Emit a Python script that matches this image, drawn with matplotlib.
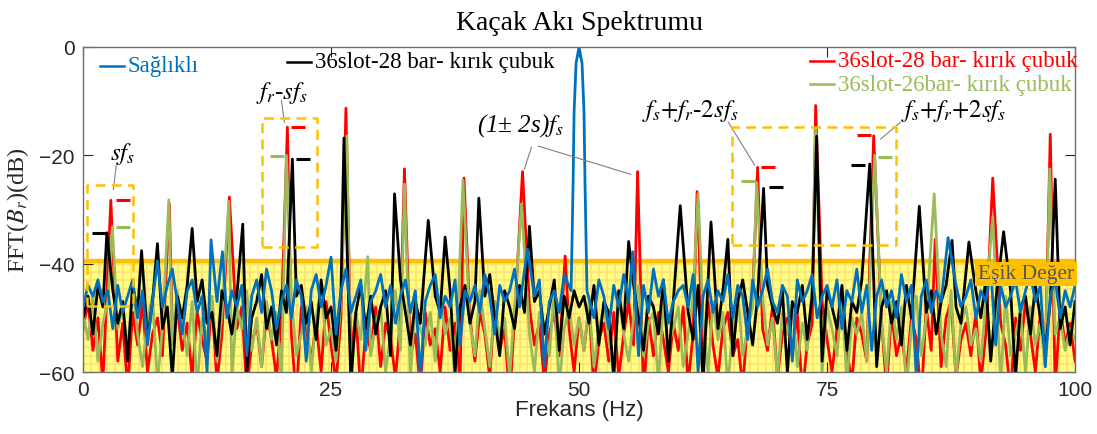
import numpy as np
import matplotlib
matplotlib.use('Agg')
import matplotlib.pyplot as plt

plt.rcParams['mathtext.fontset'] = 'stix'

# frequency grid of the noise floor (Hz), 0.5 Hz step
freq_grid = np.arange(201) * 0.5

# noise floor (dB), one value per grid point
noise_blue = [
    -48, -44, -46, -43, -47, -45, -52, -44, -49, -46, -43, -50, -45, -55, -47, -42, -48, -44, -41, -47,
    -53, -45, -43, -49, -46, -60, -44, -47, -42, -50, -45, -48, -44, -57, -46, -43, -49, -41, -45, -52,
    -47, -44, -50, -43, -46, -58, -45, -42, -48, -44, -47, -53, -45, -41, -49, -46, -43, -56, -47, -45,
    -42, -48, -44, -51, -46, -43, -49, -45, -61, -47, -44, -42, -50, -46, -48, -43, -55, -45, -47, -44,
    -49, -42, -46, -53, -44, -47, -45, -41, -48, -50, -44, -46, -43, -59, -47, -45, -49, -42, -46, -44,
    -48, -47, -45, -50, -43, -46, -52, -44, -48, -42, -47, -45, -57, -44, -49, -41, -46, -43, -51, -47,
    -45, -44, -48, -42, -60, -46, -43, -49, -45, -47, -42, -50, -44, -46, -54, -43, -48, -45, -41, -47,
    -49, -44, -46, -58, -43, -47, -45, -42, -50, -46, -44, -48, -43, -52, -45, -47, -41, -49, -44, -56,
    -46, -43, -48, -45, -50, -42, -47, -44, -61, -46, -43, -49, -45, -47, -42, -53, -44, -48, -46, -43,
    -50, -45, -47, -41, -55, -44, -48, -46, -43, -49, -45, -42, -47, -44, -59, -46, -43, -50, -45, -48,
    -44,
]
noise_black = [
    -50, -46, -53, -44, -48, -56, -45, -51, -47, -58, -44, -49, -42, -54, -47, -45, -52, -48, -61, -46,
    -50, -44, -55, -47, -43, -51, -49, -57, -45, -48, -53, -46, -44, -60, -50, -47, -42, -52, -48, -55,
    -45, -49, -58, -46, -44, -51, -47, -54, -43, -50, -48, -56, -45, -47, -62, -49, -44, -52, -46, -53,
    -48, -45, -57, -50, -43, -49, -55, -47, -51, -44, -58, -46, -49, -53, -45, -60, -48, -44, -51, -47,
    -54, -46, -42, -50, -57, -45, -48, -52, -44, -49, -59, -47, -45, -53, -48, -43, -56, -46, -50, -45,
    -48, -46, -51, -44, -55, -47, -49, -61, -45, -52, -47, -44, -50, -56, -46, -48, -53, -43, -58, -47,
    -45, -51, -49, -54, -44, -62, -48, -46, -52, -45, -50, -57, -47, -43, -49, -55, -46, -53, -44, -48,
    -51, -45, -60, -47, -49, -44, -54, -46, -50, -58, -45, -48, -52, -44, -56, -47, -49, -43, -53, -46,
    -59, -48, -45, -51, -47, -55, -44, -50, -62, -46, -49, -45, -53, -47, -44, -57, -48, -51, -46, -54,
    -45, -50, -43, -58, -47, -49, -52, -45, -61, -48, -46, -53, -44, -50, -56, -47, -45, -52, -48, -55,
    -47,
]
noise_red = [
    -52, -47, -56, -50, -62, -48, -54, -58, -51, -63, -49, -55, -47, -60, -53, -50, -57, -64, -52, -48,
    -56, -51, -61, -49, -54, -58, -47, -62, -53, -50, -57, -52, -48, -63, -55, -51, -59, -49, -54, -61,
    -50, -56, -53, -65, -48, -52, -58, -51, -60, -47, -55, -62, -50, -53, -57, -49, -64, -52, -56, -48,
    -59, -51, -54, -61, -50, -47, -57, -53, -63, -49, -55, -52, -60, -48, -56, -51, -62, -54, -50, -58,
    -49, -53, -61, -47, -56, -52, -65, -50, -54, -59, -48, -55, -51, -62, -53, -49, -57, -45, -52, -60,
    -50, -56, -48, -63, -54, -51, -58, -49, -61, -53, -47, -55, -52, -64, -50, -57, -49, -54, -60, -51,
    -56, -48, -62, -53, -50, -58, -47, -55, -61, -52, -49, -57, -54, -63, -50, -46, -59, -52, -56, -48,
    -61, -53, -50, -57, -49, -64, -55, -51, -58, -47, -54, -60, -52, -49, -56, -62, -50, -53, -58, -48,
    -55, -51, -63, -49, -57, -53, -60, -50, -54, -65, -48, -56, -52, -59, -50, -47, -61, -54, -51, -57,
    -49, -62, -53, -48, -58, -51, -55, -64, -50, -56, -47, -53, -60, -49, -57, -52, -63, -48, -55, -51,
    -58,
]
noise_green = [
    -49, -54, -46, -58, -51, -47, -60, -52, -48, -56, -44, -53, -59, -50, -46, -62, -52, -48, -55, -45,
    -51, -57, -47, -63, -50, -54, -46, -58, -49, -53, -61, -48, -52, -45, -56, -50, -59, -47, -54, -49,
    -62, -51, -46, -57, -53, -48, -60, -50, -44, -55, -52, -58, -47, -50, -63, -49, -54, -46, -57, -51,
    -48, -60, -53, -45, -56, -50, -61, -47, -52, -55, -49, -58, -46, -53, -50, -62, -48, -55, -51, -57,
    -45, -52, -59, -47, -54, -50, -61, -48, -56, -46, -53, -60, -49, -51, -57, -45, -63, -52, -48, -55,
    -50, -56, -47, -59, -52, -48, -54, -61, -46, -53, -58, -50, -44, -57, -51, -49, -62, -47, -55, -52,
    -48, -59, -53, -46, -56, -50, -60, -47, -54, -49, -63, -51, -45, -57, -52, -48, -58, -46, -55, -50,
    -61, -49, -53, -47, -59, -51, -56, -44, -54, -60, -48, -52, -57, -46, -62, -50, -53, -49, -58, -45,
    -55, -51, -60, -47, -54, -48, -63, -52, -46, -57, -50, -56, -49, -53, -59, -45, -61, -51, -48, -55,
    -52, -58, -47, -54, -50, -62, -46, -57, -53, -49, -60, -48, -55, -51, -59, -46, -53, -50, -56, -52,
    -54,
]

# spectral peaks (Hz, dB)
peaks_blue = [(7.5, -39.5), (12.9, -35.6), (14.05, -37.8), (25.0, -38.8), (44.8, -37.3),
              (49.2, -45.0), (49.4, -25.0), (49.5, -12.0), (49.7, -3.0), (50.0, 0.0),
              (50.3, -3.0), (50.5, -12.0), (50.6, -25.0), (50.8, -45.0),
              (55.4, -37.8), (87.2, -35.2)]
peaks_black = [(2.4, -34.3), (5.9, -37.6), (7.5, -36.3), (11.0, -33.5), (16.1, -32.7),
               (21.1, -20.7), (26.3, -16.8), (31.4, -27.1), (34.8, -32.0), (36.5, -35.1),
               (39.9, -27.9), (45.0, -33.1), (55.0, -35.9), (60.2, -29.3), (63.3, -32.3),
               (65.0, -35.5), (68.6, -26.1), (73.95, -16.5), (79.3, -21.6), (84.3, -29.4),
               (87.6, -35.7), (89.3, -36.0), (92.8, -34.1), (98.0, -24.4)]
peaks_red = [(2.8, -28.3), (8.7, -29.0), (14.75, -27.7), (20.6, -14.8), (26.5, -11.3),
             (32.4, -22.5), (38.4, -24.2), (44.3, -23.0), (48.6, -38.6), (55.9, -23.0),
             (61.9, -26.7), (68.0, -22.2), (73.85, -10.8), (79.7, -16.4), (85.9, -35.5),
             (91.7, -24.2), (97.5, -16.1)]
peaks_green = [(2.95, -33.2), (8.65, -28.2), (14.7, -28.5), (20.5, -20.0), (26.6, -16.4),
               (28.7, -38.7), (32.4, -25.3), (38.3, -24.6), (44.2, -29.0), (62.0, -27.1),
               (67.9, -25.0), (73.85, -15.0), (79.8, -20.0), (85.8, -27.1), (91.7, -31.3),
               (97.45, -22.5)]

# peak level marks next to the boxed peaks (Hz, dB)
marks_red = [(3.98, -28.2), (21.7, -14.8), (69.0, -22.2), (78.7, -16.2)]
marks_green = [(3.98, -33.2), (19.6, -20.2), (67.0, -24.8), (80.8, -20.4)]
marks_black = [(1.6, -34.3), (22.2, -20.7), (69.9, -25.9), (78.1, -21.8)]

threshold_db = -39.5

BLUE = '#0072BD'
RED = '#FF0000'
BLACK = '#000000'
GREEN = '#9BBB59'
ORANGE = '#FFC000'


def build_series(noise, peaks):
    """Merge the noise floor with the peak points, sorted by frequency."""
    peak_f = np.array([p[0] for p in peaks])
    keep = [i for i, f in enumerate(freq_grid) if np.all(np.abs(f - peak_f) > 0.3)]
    x = np.concatenate([freq_grid[keep], peak_f])
    y = np.concatenate([np.array(noise, dtype=float)[keep], [p[1] for p in peaks]])
    order = np.argsort(x)
    return x[order], y[order]


fig = plt.figure(figsize=(10.97, 4.35), dpi=100)
ax = fig.add_axes([0.0757, 0.1425, 0.9043, 0.7472])

# yellow region below the threshold with its own fine grid
ax.axhspan(-60, -40, color='#FFFF80', zorder=0, lw=0)
for xv in np.arange(0.8, 100, 0.8):
    ax.plot([xv, xv], [-60, -40], color='#FFDC78', lw=1.1, zorder=0.5)
for yv in np.arange(-58.5, -40, 1.54):
    ax.plot([0, 100], [yv, yv], color='#FFDC78', lw=1.1, zorder=0.5)

ax.axhline(threshold_db, color=ORANGE, lw=3.2, zorder=1)

for noise, peaks, color in [(noise_red, peaks_red, RED), (noise_green, peaks_green, GREEN),
                            (noise_black, peaks_black, BLACK), (noise_blue, peaks_blue, BLUE)]:
    x, y = build_series(noise, peaks)
    ax.plot(x, y, color=color, lw=2.0, zorder=2, solid_joinstyle='round')

for marks, color in [(marks_red, RED), (marks_green, GREEN), (marks_black, BLACK)]:
    ax.plot([m[0] for m in marks], [m[1] for m in marks], ls='none', marker='_',
            ms=10, mew=2.2, color=color, zorder=3)

# dashed boxes around the fault frequencies
box_style = dict(color=ORANGE, lw=1.8, ls=(0, (4, 2.5)), zorder=3)
for x0, x1, y0, y1 in [(0.4, 5.0, -47.8, -25.5), (18.0, 23.6, -36.9, -13.1),
                       (65.4, 82.0, -36.5, -14.8)]:
    ax.plot([x0, x1, x1, x0, x0], [y0, y0, y1, y1, y0], **box_style)

# labels with leader lines
lab_kw = dict(fontsize=18, ha='center', va='center', family='Liberation Serif',
              style='italic')
ax.text(4.0, -19.5, r'$sf_s$', **lab_kw)
ax.plot([3.35, 3.06], [-21.8, -26.3], color='#808080', lw=0.8)
ax.text(20.1, -8.3, r'$f_r$-$sf_s$', **lab_kw)
ax.plot([20.0, 20.3], [-9.9, -13.9], color='#808080', lw=0.8)
ax.text(44.05, -14.4, r'(1± 2s)$f_s$', **lab_kw)
ax.plot([45.2, 44.5], [-18.5, -22.5], color='#808080', lw=0.8)
ax.plot([45.9, 55.2], [-18.3, -23.5], color='#808080', lw=0.8)
ax.text(61.2, -11.7, r'$f_s{+}f_r$-$2sf_s$', **lab_kw)
ax.plot([65.05, 67.7], [-13.9, -21.8], color='#808080', lw=0.8)
ax.text(87.8, -11.6, r'$f_s{+}f_r{+}2sf_s$', **lab_kw)
ax.plot([82.4, 80.4], [-13.9, -17.0], color='#808080', lw=0.8)

ax.text(99.9, -41.9, 'Eşik Değer', fontsize=15.5, family='Liberation Serif', color='#595959',
        ha='right', va='center', zorder=5,
        bbox=dict(boxstyle='square,pad=0.12', fc=ORANGE, ec='none'))

# legend entries placed like the original figure
legend_items = [(0.017, 0.942, BLUE, 'Sağlıklı'),
                (0.206, 0.954, BLACK, '36slot-28 bar- kırık çubuk'),
                (0.733, 0.957, RED, '36slot-28 bar- kırık çubuk'),
                (0.733, 0.886, GREEN, '36slot-26bar- kırık çubuk')]
for lx, ly, color, label in legend_items:
    ax.plot([lx, lx + 0.024], [ly, ly], color=color, lw=1.8, transform=ax.transAxes)
    ax.text(lx + 0.028, ly, label, color=color, fontsize=16.5, family='Liberation Serif',
            va='center', ha='left', transform=ax.transAxes)

ax.set_xlim(0, 100)
ax.set_ylim(-60, 0)
ax.set_xticks([0, 25, 50, 75, 100])
ax.set_yticks([-60, -40, -20, 0])
ax.tick_params(direction='in', length=7, width=0.8, top=True, right=True,
               labelsize=15, colors='#262626', pad=6)
for lbl in ax.get_xticklabels() + ax.get_yticklabels():
    lbl.set_family('Liberation Sans')
for sp in ax.spines.values():
    sp.set_color('#6e6e6e')
    sp.set_linewidth(1.0)

ax.set_xlabel('Frekans (Hz)', fontsize=16, family='Liberation Sans', color='#262626',
              labelpad=0)
ax.set_ylabel(r'FFT($B_r$)(dB)', fontsize=17.5, family='Liberation Serif', color='#262626',
              labelpad=6)
ax.set_title('Kaçak Akı Spektrumu', fontsize=20, family='Liberation Serif', pad=13)

fig.savefig('out.png', dpi=100)
